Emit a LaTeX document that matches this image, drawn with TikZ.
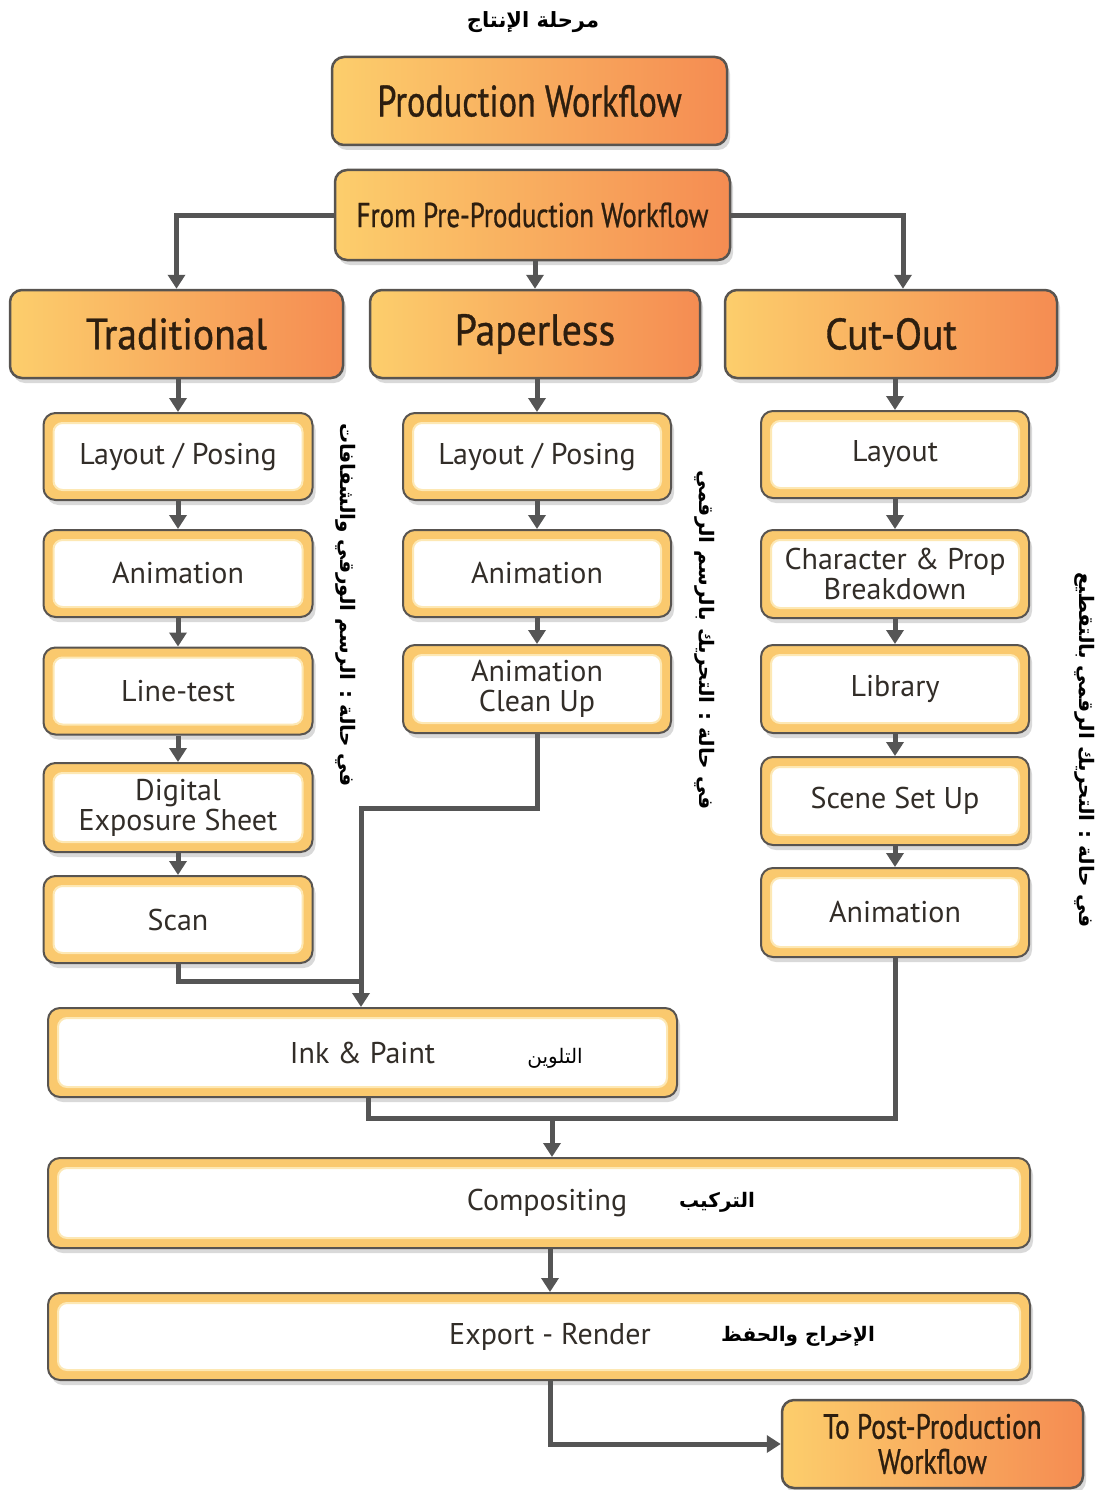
\documentclass[tikz,border=0pt]{standalone}
\usepackage{fontspec}
\setmainfont{PT Sans}
\newfontfamily\condfont[FakeStretch=0.78,FakeBold=0.8]{PT Sans}
\newfontfamily\semifont[FakeStretch=0.9,FakeBold=0.8]{PT Sans}
\newfontfamily\arabicfont[Script=Arabic]{DejaVu Sans}
\TeXXeTstate=1
\usetikzlibrary{arrows.meta,shadows}

\definecolor{ringY}{RGB}{250,201,110}
\definecolor{ringSoft}{RGB}{253,232,180}
\definecolor{edgeG}{RGB}{88,84,80}
\definecolor{orL}{RGB}{252,206,108}
\definecolor{orR}{RGB}{245,140,82}
\definecolor{arrG}{RGB}{85,85,85}
\definecolor{txtD}{RGB}{50,45,40}
\definecolor{txtO}{RGB}{45,30,15}

\tikzset{
  boxshadow/.style={drop shadow={shadow xshift=3pt, shadow yshift=-5pt, opacity=0.3, fill=gray}},
  obox/.style={draw=edgeG, line width=2.5pt, rounded corners=12pt, left color=orL, right color=orR,
    text=txtO, font=\semifont\fontsize{44}{46}\selectfont, align=center, inner sep=0pt, boxshadow},
  wbox/.style={draw=edgeG, line width=2pt, fill=ringY, rounded corners=12pt, text=txtD,
    font=\fontsize{30}{30}\selectfont, align=center, inner sep=0pt, boxshadow,
    path picture={\fill[white, draw=ringSoft, line width=2pt, rounded corners=9pt]
      ([shift={(10pt,10pt)}]path picture bounding box.south west) rectangle
      ([shift={(-10pt,-10pt)}]path picture bounding box.north east);}},
  arr/.style={draw=arrG, line width=5pt, -{Triangle[length=14pt,width=17pt]}},
  conn/.style={draw=arrG, line width=5pt},
  arb/.style={font=\arabicfont\bfseries\fontsize{20}{22}\selectfont, text=black, inner sep=0pt},
  arn/.style={font=\arabicfont\fontsize{20}{22}\selectfont, text=black, inner sep=0pt},
}

\begin{document}
\begin{tikzpicture}[x=1pt, y=-1pt]
\useasboundingbox (0,0) rectangle (1105,1490);

% title
\node[arb, font=\arabicfont\bfseries\fontsize{21}{22}\selectfont] (title) at (533,22) {\beginR مرحلة الإنتاج\endR};

% orange boxes
\node[obox, minimum width=395pt, minimum height=88pt, font=\condfont\fontsize{44}{46}\selectfont] (prod) at (529.5,101) {Production Workflow};
\node[obox, minimum width=395pt, minimum height=90pt, font=\condfont\fontsize{34.5}{38}\selectfont] (pre) at (532.5,215) {From Pre-Production Workflow};
\node[obox, minimum width=333pt, minimum height=88pt] (trad) at (176.5,334) {Traditional};
\node[obox, minimum width=330pt, minimum height=88pt] (paper) at (535,334) {Paperless};
\node[obox, minimum width=332pt, minimum height=88pt] (cut) at (891,334) {Cut-Out};

% traditional column
\node[wbox, minimum width=269pt, minimum height=87pt] (t1) at (178,456.5) {Layout / Posing};
\node[wbox, minimum width=269pt, minimum height=87pt] (t2) at (178,573.5) {Animation};
\node[wbox, minimum width=269pt, minimum height=87pt] (t3) at (178,691) {Line-test};
\node[wbox, minimum width=269pt, minimum height=89pt] (t4) at (178,807.5) {Digital\\Exposure Sheet};
\node[wbox, minimum width=269pt, minimum height=87pt] (t5) at (178,919.5) {Scan};

% paperless column
\node[wbox, minimum width=268pt, minimum height=87pt] (p1) at (537,456.5) {Layout / Posing};
\node[wbox, minimum width=268pt, minimum height=87pt] (p2) at (537,573.5) {Animation};
\node[wbox, minimum width=268pt, minimum height=88pt] (p3) at (537,689) {Animation\\Clean Up};

% cut-out column
\node[wbox, minimum width=268pt, minimum height=87pt] (c1) at (895,454.5) {Layout};
\node[wbox, minimum width=268pt, minimum height=88pt] (c2) at (895,574) {Character \& Prop\\Breakdown};
\node[wbox, minimum width=268pt, minimum height=88pt] (c3) at (895,689) {Library};
\node[wbox, minimum width=268pt, minimum height=88pt] (c4) at (895,801) {Scene Set Up};
\node[wbox, minimum width=268pt, minimum height=89pt] (c5) at (895,912.5) {Animation};

% wide boxes
\node[wbox, minimum width=629pt, minimum height=89pt] (ink) at (362.5,1052.5) {Ink \& Paint};
\node[wbox, minimum width=982pt, minimum height=90pt] (comp) at (539,1203) {\hspace*{16pt}Compositing};
\node[wbox, minimum width=982pt, minimum height=87pt] (exp) at (539,1336.5) {\hspace*{22pt}Export - Render};
\node[obox, minimum width=301pt, minimum height=88pt, font=\condfont\fontsize{35}{35}\selectfont] (post) at (932.5,1444) {To Post-Production\\Workflow};

% arabic labels
\node[arn] (linkl) at (555,1058) {\beginR التلوين\endR};
\node[arb] (lcomp) at (717,1202) {\beginR التركيب\endR};
\node[arb] (lexp) at (798,1336) {\beginR الإخراج والحفظ\endR};
\node[arb, rotate=-90] (vl) at (346,605) {\beginR في حالة : الرسم الورقي والشفافات\endR};
\node[arb, rotate=-90] (vm) at (705,640) {\beginR في حالة : التحريك بالرسم الرقمي\endR};
\node[arb, rotate=-90] (vr) at (1085,750) {\beginR في حالة : التحريك الرقمي  بالتقطيع\endR};

% helper coordinates
\coordinate (bendA) at (361,808);
\coordinate (joinA) at (361,981);
\coordinate (bendB) at (368,1118);
\coordinate (dropC) at (552,1118);
\coordinate (xc) at (550,0);

% connectors
\draw[arr] (pre.west) -| (trad.north);
\draw[arr] (pre.east) -| ([xshift=12pt]cut.north);
\draw[arr] (paper.north |- pre.south) -- (paper.north);

\draw[arr] (trad.south -| t1.north) -- (t1.north);
\draw[arr] (t1.south) -- (t2.north);
\draw[arr] (t2.south) -- (t3.north);
\draw[arr] (t3.south) -- (t4.north);
\draw[arr] (t4.south) -- (t5.north);

\draw[arr] (paper.south -| p1.north) -- (p1.north);
\draw[arr] (p1.south) -- (p2.north);
\draw[arr] (p2.south) -- (p3.north);

\draw[arr] (cut.south -| c1.north) -- (c1.north);
\draw[arr] (c1.south) -- (c2.north);
\draw[arr] (c2.south) -- (c3.north);
\draw[arr] (c3.south) -- (c4.north);
\draw[arr] (c4.south) -- (c5.north);

\draw[conn] (t5.south) |- (joinA);
\draw[arr] (p3.south) |- (bendA) -- (bendA |- ink.north);

\draw[conn] (bendB |- ink.south) -- (bendB) -| (c5.south);
\draw[arr] (dropC) -- (dropC |- comp.north);
\draw[arr] (comp.south -| xc) -- (exp.north -| xc);
\draw[arr] (exp.south -| xc) |- (post.west);
\end{tikzpicture}
\end{document}
